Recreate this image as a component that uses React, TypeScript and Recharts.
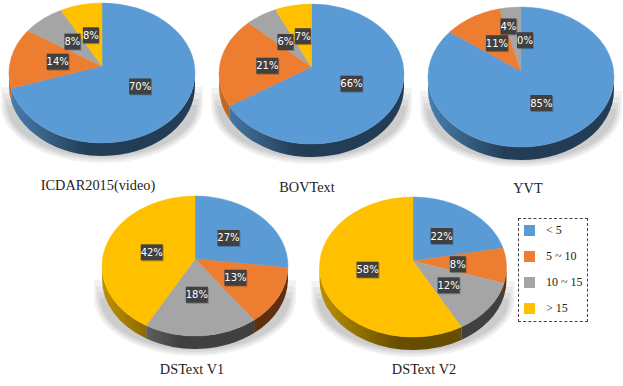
// Text-size share per dataset, drawn as five tilted 3D-looking pies.
import { PieChart, Pie, Cell } from 'recharts';

const categories = ['< 5', '5 ~ 10', '10 ~ 15', '> 15'];
const icdarValues = [70, 14, 8, 8];
const bovValues = [66, 21, 6, 7];
const yvtValues = [85, 11, 4, 0];
const dstextV1Values = [27, 13, 18, 42];
const dstextV2Values = [22, 8, 12, 58];

const COLORS = ['#5b9bd5', '#ed7d31', '#a5a5a5', '#ffc000'];
const WALL_LIGHT = ['#4a7fb0', '#c56d25', '#888888', '#bf9000'];
const WALL_DARK = ['#223d55', '#5e3010', '#404040', '#664d00'];
const SHADOW_BANDS = [
  { off: 8, color: '#f2f2f2', start: 14 },
  { off: 6, color: '#e6e6e6', start: 20 },
  { off: 4, color: '#d9d9d9', start: 26 },
  { off: 2, color: '#cccccc', start: 32 },
];

const TILT = 0.75;
const DEPTH = 13;

// ax/ay = pie apex, top/bottom = extent of the top face
const panels = [
  { title: 'ICDAR2015(video)', values: icdarValues, ax: 102, ay: 66, rx: 93, top: 3, bottom: 143, tx: 98, ty: 185, nudge: [[2, 0], [0, 0], [1, 1], [0, 3]] },
  { title: 'BOVText', values: bovValues, ax: 311.5, ay: 67, rx: 92.5, top: 4, bottom: 144, tx: 307, ty: 187, nudge: [[1, 0], [0, 2], [0, 3], [1, 3]] },
  { title: 'YVT', values: yvtValues, ax: 521, ay: 71, rx: 93, top: 7, bottom: 147, tx: 528, ty: 188, nudge: [[0, 1], [1, 1], [-7, -10], [4, 4]] },
  { title: 'DSText V1', values: dstextV1Values, ax: 195, ay: 259, rx: 93, top: 196, bottom: 336, tx: 192, ty: 369, nudge: [[0, 2], [2, 1], [-1, 1], [0, 2]] },
  { title: 'DSText V2', values: dstextV2Values, ax: 413, ay: 261, rx: 93.5, top: 197, bottom: 337, tx: 424, ty: 369, nudge: [[0, 2], [0, 1], [1, 2], [-2, 0]] },
];

type Panel = (typeof panels)[number];

function ellipseOf(p: Panel) {
  return { ey: (p.top + p.bottom) / 2, ry: (p.bottom - p.top) / 2 };
}

// where a ray from the apex at a clockwise-from-top angle meets the rim
function rimPoint(p: Panel, angle: number) {
  const { ey, ry } = ellipseOf(p);
  const rad = (angle * Math.PI) / 180;
  const sx = Math.sin(rad);
  const sy = -Math.cos(rad) * TILT;
  const y0 = p.ay - ey;
  const a = (sx * sx) / (p.rx * p.rx) + (sy * sy) / (ry * ry);
  const b = (2 * y0 * sy) / (ry * ry);
  const c = (y0 * y0) / (ry * ry) - 1;
  const t = (-b + Math.sqrt(b * b - 4 * a * c)) / (2 * a);
  return { x: p.ax + t * sx, y: p.ay + t * sy };
}

function rimParams(p: Panel, startAngle: number, endAngle: number) {
  const { ey, ry } = ellipseOf(p);
  const p1 = rimPoint(p, 90 - startAngle);
  const p2 = rimPoint(p, 90 - endAngle);
  const t1 = Math.atan2((p1.y - ey) / ry, (p1.x - p.ax) / p.rx);
  let t2 = Math.atan2((p2.y - ey) / ry, (p2.x - p.ax) / p.rx);
  while (t2 <= t1) t2 += Math.PI * 2;
  return { p1, p2, t1, t2 };
}

function TopFace({ panel, startAngle, endAngle, fill }: any) {
  if (Math.abs(startAngle - endAngle) < 0.01) return <g />;
  const { ry } = ellipseOf(panel);
  const { p1, p2, t1, t2 } = rimParams(panel, startAngle, endAngle);
  const large = t2 - t1 > Math.PI ? 1 : 0;
  const d = `M${panel.ax},${panel.ay} L${p1.x},${p1.y} A${panel.rx},${ry} 0 ${large} 1 ${p2.x},${p2.y} Z`;
  return <path d={d} fill={fill} stroke={fill} strokeWidth={0.5} />;
}

// floor shadow as stacked bands, drawn once under the first slice
function FloorShadow({ panel }: any) {
  const { ey, ry } = ellipseOf(panel);
  const cy = ey + 12;
  return (
    <g>
      {SHADOW_BANDS.map(({ off, color, start }) => {
        const rx = panel.rx + off;
        const left = panel.ax - rx;
        const right = panel.ax + rx;
        const d = `M${left},${ey + start} L${left},${cy + 20} A${rx},${ry + off - 20} 0 0 0 ${right},${cy + 20} L${right},${ey + start} Z`;
        return <path key={off} d={d} fill={color} />;
      })}
    </g>
  );
}

function Wall({ panel, panelIndex, startAngle, endAngle }: any) {
  const { ey, ry } = ellipseOf(panel);
  // index prop is not reliable here, so work the slice out from the values
  const sweep = Math.abs(startAngle - endAngle);
  let acc = 0;
  let slice = 0;
  panel.values.forEach((v: number, i: number) => {
    if (Math.abs(acc * 3.6 - (90 - startAngle)) < 0.5 && Math.abs(v * 3.6 - sweep) < 0.5) slice = i;
    acc += v;
  });
  const id = `wall-${panelIndex}-${slice}`;
  const paths: string[] = [];
  if (sweep >= 0.01) {
    const { t1, t2 } = rimParams(panel, startAngle, endAngle);
    [[0, Math.PI], [Math.PI * 2, Math.PI * 3]].forEach(([lo, hi]) => {
      const a = Math.max(t1, lo);
      const b = Math.min(t2, hi);
      if (b <= a) return;
      const ax = panel.ax + panel.rx * Math.cos(a);
      const ay = ey + ry * Math.sin(a);
      const bx = panel.ax + panel.rx * Math.cos(b);
      const by = ey + ry * Math.sin(b);
      paths.push(
        `M${ax},${ay} A${panel.rx},${ry} 0 0 1 ${bx},${by} L${bx},${by + DEPTH} A${panel.rx},${ry} 0 0 0 ${ax},${ay + DEPTH} Z`,
      );
    });
  }
  return (
    <g>
      <defs>
        <linearGradient id={id} gradientUnits="userSpaceOnUse" x1={panel.ax - panel.rx} x2={panel.ax + panel.rx} y1={0} y2={0}>
          <stop offset="0" stopColor={WALL_LIGHT[slice]} />
          <stop offset="0.42" stopColor={WALL_DARK[slice]} />
          <stop offset="1" stopColor={WALL_DARK[slice]} />
        </linearGradient>
      </defs>
      {paths.map((d) => (
        <path key={d} d={d} fill={`url(#${id})`} />
      ))}
    </g>
  );
}

function ValueTag({ panel, midAngle, value, index }: any) {
  const rad = ((90 - midAngle) * Math.PI) / 180;
  const reach = 0.48 * panel.rx;
  const [dx, dy] = panel.nudge[index];
  const x = panel.ax + reach * Math.sin(rad) + dx;
  const y = panel.ay - reach * 0.78 * Math.cos(rad) + dy;
  const w = value >= 10 ? 22 : 16;
  return (
    <g>
      <rect x={x - w / 2 + 1} y={y - 7} width={w} height={16} fill="#000" opacity={0.22} />
      <rect x={x - w / 2} y={y - 8} width={w} height={16} fill="#404040" />
      <text x={x} y={y} fill="#fff" fontSize={10} fontFamily="DejaVu Sans" textAnchor="middle" dominantBaseline="central">
        {value}%
      </text>
    </g>
  );
}

const legendRows = [230, 256, 282, 308];

export default function App() {
  return (
    <div style={{ position: 'absolute', left: 0, top: 0, width: 623, height: 386, background: '#fff', overflow: 'hidden' }}>
      <PieChart width={623} height={386} margin={{ top: 0, right: 0, bottom: 0, left: 0 }}>
        {panels.map((panel) => (
          <Pie
            key={`shadow-${panel.title}`}
            data={[{ name: 'all', value: 1 }]}
            dataKey="value"
            cx={panel.ax}
            cy={panel.ay}
            outerRadius={panel.rx}
            stroke="none"
            isAnimationActive={false}
            shape={(props: any) => <FloorShadow {...props} panel={panel} />}
          />
        ))}
        {panels.map((panel, pi) => (
          <Pie
            key={`wall-${panel.title}`}
            data={categories.map((name, i) => ({ name, value: panel.values[i] }))}
            dataKey="value"
            cx={panel.ax}
            cy={panel.ay}
            outerRadius={panel.rx}
            startAngle={90}
            endAngle={-270}
            stroke="none"
            isAnimationActive={false}
            shape={(props: any) => <Wall {...props} panel={panel} panelIndex={pi} />}
          />
        ))}
        {panels.map((panel) => (
          <Pie
            key={`top-${panel.title}`}
            data={categories.map((name, i) => ({ name, value: panel.values[i] }))}
            dataKey="value"
            cx={panel.ax}
            cy={panel.ay}
            outerRadius={panel.rx}
            startAngle={90}
            endAngle={-270}
            stroke="none"
            isAnimationActive={false}
            labelLine={false}
            label={(props: any) => <ValueTag {...props} panel={panel} />}
            shape={(props: any) => <TopFace {...props} panel={panel} />}
          >
            {categories.map((name, i) => (
              <Cell key={name} fill={COLORS[i]} />
            ))}
          </Pie>
        ))}
      </PieChart>

      {panels.map((panel) => (
        <div
          key={panel.title}
          style={{
            position: 'absolute',
            left: panel.tx - 80,
            top: panel.ty - 10,
            width: 160,
            height: 20,
            lineHeight: '20px',
            textAlign: 'center',
            fontFamily: 'Liberation Serif',
            fontSize: 14.3,
            color: '#222',
          }}
        >
          {panel.title}
        </div>
      ))}

      <div style={{ position: 'absolute', left: 518, top: 218, width: 68, height: 102, border: '1px dashed #444' }} />
      {categories.map((name, i) => (
        <div key={name}>
          <div style={{ position: 'absolute', left: 524, top: legendRows[i] - 5.5, width: 11, height: 11, background: COLORS[i] }} />
          <div
            style={{
              position: 'absolute',
              left: 546,
              top: legendRows[i] - 8,
              height: 16,
              lineHeight: '16px',
              whiteSpace: 'nowrap',
              fontFamily: 'Liberation Serif',
              fontSize: 12,
              color: '#222',
            }}
          >
            {name}
          </div>
        </div>
      ))}
    </div>
  );
}
